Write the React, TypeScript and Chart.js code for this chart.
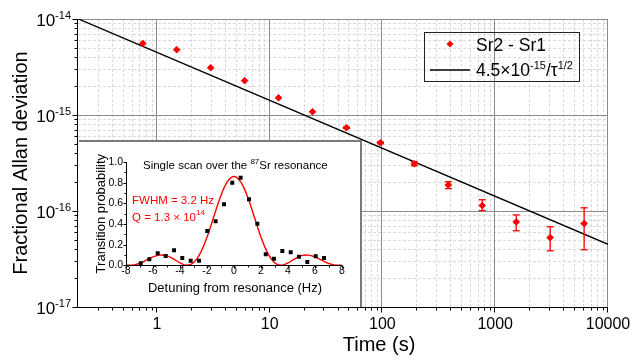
import React, { useEffect, useRef } from "react";
import { Chart, registerables } from "chart.js";

Chart.register(...registerables);

// ---------- main Allan deviation data ----------
const tau = [0.75, 1.5, 3, 6, 12, 24, 48, 96, 192, 384, 768, 1536, 3072, 6144];
const adev = [5.57e-15, 4.79e-15, 3.11e-15, 2.28e-15, 1.51e-15, 1.08e-15, 7.38e-16, 5.14e-16, 3.11e-16, 1.87e-16, 1.14e-16, 7.7e-17, 5.28e-17, 7.4e-17];
const adevHigh = [5.57e-15, 4.79e-15, 3.11e-15, 2.28e-15, 1.51e-15, 1.08e-15, 7.5e-16, 5.25e-16, 3.26e-16, 2.02e-16, 1.31e-16, 9.1e-17, 6.85e-17, 1.08e-16];
const adevLow = [5.57e-15, 4.79e-15, 3.11e-15, 2.28e-15, 1.51e-15, 1.08e-15, 7.26e-16, 5.03e-16, 2.96e-16, 1.71e-16, 1.01e-16, 6.23e-17, 3.85e-17, 3.95e-17];
const fitTau = [0.2, 10000];
const fitDev = [1.006e-14, 4.5e-17];

const xTickValues = [1, 10, 100, 1000, 10000];
const xTickLabels = ["1", "10", "100", "1000", "10000"];
const yTickValues = [1e-17, 1e-16, 1e-15, 1e-14];
const yTickExponents = ["-17", "-16", "-15", "-14"];

const seriesLabel = "Sr2 - Sr1";

// ---------- inset data ----------
const detuning = [-6.91, -6.27, -5.65, -5.06, -4.44, -3.83, -3.21, -2.59, -1.98, -1.36, -0.74, -0.13, 0.49, 1.11, 1.73, 2.35, 2.96, 3.58, 4.2, 4.81, 5.43, 6.05, 6.67];
const probability = [0.019, 0.058, 0.116, 0.09, 0.145, 0.071, 0.045, 0.045, 0.332, 0.426, 0.59, 0.8, 0.848, 0.639, 0.403, 0.106, 0.064, 0.138, 0.126, 0.083, 0.032, 0.087, 0.071];
const fitDetuning = [-8, -7.5, -7, -6.5, -6, -5.5, -5, -4.5, -4, -3.5, -3, -2.5, -2, -1.5, -1, -0.5, 0, 0.5, 1, 1.5, 2, 2.5, 3, 3.5, 4, 4.5, 5, 5.5, 6, 6.5, 7, 7.5, 8];
const fitProbability = [0.002, 0.002, 0.019, 0.049, 0.081, 0.099, 0.093, 0.063, 0.023, 0.0, 0.025, 0.116, 0.272, 0.47, 0.664, 0.807, 0.86, 0.807, 0.664, 0.47, 0.272, 0.116, 0.025, 0.0, 0.023, 0.063, 0.093, 0.099, 0.081, 0.049, 0.019, 0.002, 0.002];
const insetXTicks = [-8, -6, -4, -2, 0, 2, 4, 6, 8];
const insetYTicks = [0, 0.2, 0.4, 0.6, 0.8, 1.0];
const insetYTickLabels = ["0.0", "0.2", "0.4", "0.6", "0.8", "1.0"];

const RED = "#ff0000";
const FONT = "'Liberation Sans', Arial, sans-serif";
const INSET_LEFT = 79;
const INSET_TOP = 140;
const INSET_W = 283;
const INSET_H = 167;

type Part = { t: string; sup?: boolean };

function drawParts(
  ctx: CanvasRenderingContext2D,
  parts: Part[],
  x: number,
  y: number,
  size: number,
  supSize: number,
  rise: number,
  align: "left" | "right" | "center",
  color: string
) {
  ctx.save();
  ctx.fillStyle = color;
  ctx.textBaseline = "alphabetic";
  ctx.textAlign = "left";
  const widths = parts.map((p) => {
    ctx.font = `${p.sup ? supSize : size}px ${FONT}`;
    return ctx.measureText(p.t).width;
  });
  const total = widths.reduce((a, b) => a + b, 0);
  let cx = align === "left" ? x : align === "right" ? x - total : x - total / 2;
  parts.forEach((p, i) => {
    ctx.font = `${p.sup ? supSize : size}px ${FONT}`;
    ctx.fillText(p.t, cx, p.sup ? y - rise : y);
    cx += widths[i];
  });
  ctx.restore();
}

function hline(ctx: CanvasRenderingContext2D, x1: number, x2: number, y: number) {
  ctx.beginPath();
  ctx.moveTo(x1, y);
  ctx.lineTo(x2, y);
  ctx.stroke();
}
function vline(ctx: CanvasRenderingContext2D, x: number, y1: number, y2: number) {
  ctx.beginPath();
  ctx.moveTo(x, y1);
  ctx.lineTo(x, y2);
  ctx.stroke();
}

function minorValues(minExp: number, maxExp: number, lo: number, hi: number) {
  const out: number[] = [];
  for (let e = minExp; e <= maxExp; e++) {
    for (let k = 2; k <= 9; k++) {
      const v = k * Math.pow(10, e);
      if (v > lo * 1.0001 && v < hi * 0.9999) out.push(v);
    }
  }
  return out;
}

const mainPlugin = {
  id: "mainDecor",
  beforeDraw(chart: any) {
    const ctx = chart.ctx;
    ctx.save();
    ctx.fillStyle = "#ffffff";
    ctx.fillRect(0, 0, chart.width, chart.height);
    ctx.restore();
  },
  beforeDatasetsDraw(chart: any) {
    const ctx: CanvasRenderingContext2D = chart.ctx;
    const xs = chart.scales.x;
    const ys = chart.scales.y;
    const a = chart.chartArea;
    ctx.save();
    ctx.lineWidth = 1;
    ctx.strokeStyle = "#dadada";
    ctx.setLineDash([3, 2]);
    minorValues(-1, 3, 0.2, 10000).forEach((v) => {
      const px = Math.round(xs.getPixelForValue(v)) + 0.5;
      vline(ctx, px, a.top, a.bottom);
    });
    minorValues(-17, -15, 1e-17, 1e-14).forEach((v) => {
      const py = Math.round(ys.getPixelForValue(v)) + 0.5;
      hline(ctx, a.left, a.right, py);
    });
    ctx.setLineDash([]);
    ctx.strokeStyle = "#8c8c8c";
    xTickValues.forEach((v) => {
      const px = Math.round(xs.getPixelForValue(v)) - 0.5;
      vline(ctx, px, a.top, a.bottom);
    });
    yTickValues.slice(1).forEach((v) => {
      const py = Math.round(ys.getPixelForValue(v)) + 0.5;
      hline(ctx, a.left, a.right, py);
    });
    ctx.restore();
  },
  afterDatasetsDraw(chart: any) {
    const ctx: CanvasRenderingContext2D = chart.ctx;
    const xs = chart.scales.x;
    const ys = chart.scales.y;
    const a = chart.chartArea;
    ctx.save();
    // error bars
    ctx.strokeStyle = RED;
    ctx.lineWidth = 1.3;
    tau.forEach((t, i) => {
      const px = xs.getPixelForValue(t);
      const hi = ys.getPixelForValue(adevHigh[i]);
      const lo = ys.getPixelForValue(adevLow[i]);
      if (Math.abs(lo - hi) < 1) return;
      vline(ctx, px, hi, lo);
      hline(ctx, px - 3.5, px + 3.5, hi);
      hline(ctx, px - 3.5, px + 3.5, lo);
    });
    // axes
    ctx.strokeStyle = "#000";
    ctx.lineWidth = 1;
    const axX = Math.round(a.left) - 0.5;
    const axY = Math.round(a.bottom) + 0.5;
    vline(ctx, axX, a.top, axY + 0.5);
    hline(ctx, axX - 0.5, a.right, axY);
    // y ticks
    yTickValues.forEach((v) => {
      const py = Math.round(ys.getPixelForValue(v)) + 0.5;
      hline(ctx, axX - 5, axX, py);
    });
    minorValues(-17, -15, 1e-17, 1e-14).forEach((v) => {
      const py = Math.round(ys.getPixelForValue(v)) + 0.5;
      hline(ctx, axX - 3, axX, py);
    });
    // x ticks
    xTickValues.forEach((v) => {
      const px = Math.round(xs.getPixelForValue(v)) - 0.5;
      vline(ctx, px, axY, axY + 5);
    });
    minorValues(-1, 3, 0.2, 10000).forEach((v) => {
      const px = Math.round(xs.getPixelForValue(v)) + 0.5;
      vline(ctx, px, axY, axY + 3);
    });
    // tick labels
    ctx.fillStyle = "#000";
    ctx.font = `16px ${FONT}`;
    ctx.textAlign = "center";
    ctx.textBaseline = "alphabetic";
    xTickValues.forEach((v, i) => {
      ctx.fillText(xTickLabels[i], xs.getPixelForValue(v), 329);
    });
    yTickValues.forEach((v, i) => {
      const py = ys.getPixelForValue(v);
      drawParts(ctx, [{ t: "10" }, { t: yTickExponents[i], sup: true }], 71, py + 7, 17, 11, 7, "right", "#000");
    });
    // axis titles
    ctx.font = `20px ${FONT}`;
    ctx.textAlign = "center";
    ctx.fillText("Time (s)", 379, 351);
    ctx.save();
    ctx.translate(27, (a.top + a.bottom) / 2);
    ctx.rotate(-Math.PI / 2);
    ctx.fillText("Fractional Allan deviation", 0, 0);
    ctx.restore();
    // legend
    ctx.strokeStyle = "#222";
    ctx.lineWidth = 1;
    ctx.strokeRect(424.5, 32.5, 155, 49);
    ctx.fillStyle = RED;
    ctx.beginPath();
    ctx.moveTo(450, 40.5);
    ctx.lineTo(453.5, 44);
    ctx.lineTo(450, 47.5);
    ctx.lineTo(446.5, 44);
    ctx.closePath();
    ctx.fill();
    drawParts(ctx, [{ t: seriesLabel }], 476, 50.5, 17.5, 11, 0, "left", "#000");
    ctx.strokeStyle = "#000";
    ctx.lineWidth = 1.3;
    hline(ctx, 430, 470, 70);
    drawParts(
      ctx,
      [{ t: "4.5×10" }, { t: "-15", sup: true }, { t: "/τ" }, { t: "1/2", sup: true }],
      476,
      76,
      17.5,
      11,
      7,
      "left",
      "#000"
    );
    ctx.restore();
  },
};

const insetPlugin = {
  id: "insetDecor",
  beforeDraw(chart: any) {
    const ctx: CanvasRenderingContext2D = chart.ctx;
    ctx.save();
    ctx.fillStyle = "#ffffff";
    ctx.fillRect(0, 0, chart.width, chart.height);
    ctx.strokeStyle = "#7a7a7a";
    ctx.lineWidth = 2;
    ctx.beginPath();
    ctx.moveTo(0, 1);
    ctx.lineTo(chart.width - 1, 1);
    ctx.lineTo(chart.width - 1, chart.height);
    ctx.stroke();
    ctx.restore();
  },
  afterDatasetsDraw(chart: any) {
    const ctx: CanvasRenderingContext2D = chart.ctx;
    const xs = chart.scales.x;
    const ys = chart.scales.y;
    const a = chart.chartArea;
    const L = INSET_LEFT;
    const T = INSET_TOP;
    ctx.save();
    ctx.strokeStyle = "#000";
    ctx.lineWidth = 1;
    const axX = Math.round(a.left) + 0.5;
    const axY = Math.round(a.bottom) + 0.5;
    vline(ctx, axX, a.top, axY);
    hline(ctx, axX, a.right, axY);
    insetXTicks.forEach((v) => {
      const px = Math.round(xs.getPixelForValue(v)) + 0.5;
      vline(ctx, px, axY, axY + 3);
    });
    for (let v = -7; v <= 7; v += 2) {
      const px = Math.round(xs.getPixelForValue(v)) + 0.5;
      vline(ctx, px, axY, axY + 2);
    }
    insetYTicks.forEach((v) => {
      const py = Math.round(ys.getPixelForValue(v)) + 0.5;
      hline(ctx, axX - 3, axX, py);
    });
    for (let v = 0.1; v < 1; v += 0.2) {
      const py = Math.round(ys.getPixelForValue(v)) + 0.5;
      hline(ctx, axX - 2, axX, py);
    }
    ctx.fillStyle = "#000";
    ctx.font = `10.5px ${FONT}`;
    ctx.textAlign = "center";
    ctx.textBaseline = "alphabetic";
    insetXTicks.forEach((v) => {
      ctx.fillText(String(v), xs.getPixelForValue(v), 274 - T);
    });
    ctx.textAlign = "right";
    ctx.textBaseline = "middle";
    insetYTicks.forEach((v, i) => {
      ctx.fillText(insetYTickLabels[i], axX - 3.5, ys.getPixelForValue(v));
    });
    ctx.textBaseline = "alphabetic";
    ctx.textAlign = "center";
    ctx.font = `13px ${FONT}`;
    ctx.fillText("Detuning from resonance (Hz)", 235 - L, 292 - T);
    ctx.save();
    ctx.translate(105 - L, (a.top + a.bottom) / 2);
    ctx.rotate(-Math.PI / 2);
    ctx.fillText("Transition probability", 0, 0);
    ctx.restore();
    drawParts(
      ctx,
      [{ t: "Single scan over the " }, { t: "87", sup: true }, { t: "Sr resonance" }],
      143 - L,
      168.5 - T,
      11.5,
      8,
      5,
      "left",
      "#000"
    );
    drawParts(ctx, [{ t: "FWHM = 3.2 Hz" }], 132 - L, 203.5 - T, 11.5, 8, 0, "left", RED);
    drawParts(ctx, [{ t: "Q = 1.3 × 10" }, { t: "14", sup: true }], 132 - L, 221 - T, 11.5, 8, 6, "left", RED);
    ctx.restore();
  },
};

export default function App() {
  const mainRef = useRef<HTMLCanvasElement>(null);
  const insetRef = useRef<HTMLCanvasElement>(null);

  useEffect(() => {
    document.body.style.margin = "0";
    const main = new Chart(mainRef.current as HTMLCanvasElement, {
      type: "scatter",
      data: {
        datasets: [
          {
            type: "line",
            label: "fit",
            data: fitTau.map((x, i) => ({ x, y: fitDev[i] })),
            borderColor: "#000",
            borderWidth: 1.3,
            pointRadius: 0,
            fill: false,
            order: 2,
          } as any,
          {
            label: seriesLabel,
            data: tau.map((x, i) => ({ x, y: adev[i] })),
            pointStyle: "rectRot",
            pointRadius: 3.3,
            pointBorderWidth: 1,
            backgroundColor: RED,
            borderColor: RED,
            order: 1,
          },
        ],
      },
      options: {
        animation: false,
        responsive: false,
        maintainAspectRatio: false,
        layout: { padding: { left: 78, right: 26, top: 19, bottom: 53 } },
        scales: {
          x: { type: "logarithmic", min: 0.2, max: 10000, display: false },
          y: { type: "logarithmic", min: 1e-17, max: 1e-14, display: false },
        },
        plugins: { legend: { display: false }, tooltip: { enabled: false } },
      },
      plugins: [mainPlugin],
    });

    const inset = new Chart(insetRef.current as HTMLCanvasElement, {
      type: "scatter",
      data: {
        datasets: [
          {
            type: "line",
            label: "fit",
            data: fitDetuning.map((x, i) => ({ x, y: fitProbability[i] })),
            borderColor: RED,
            borderWidth: 1.4,
            pointRadius: 0,
            tension: 0.4,
            fill: false,
            order: 2,
          } as any,
          {
            label: "data",
            data: detuning.map((x, i) => ({ x, y: probability[i] })),
            pointStyle: "rect",
            pointRadius: 2.8,
            pointBorderWidth: 0,
            backgroundColor: "#000",
            borderColor: "#000",
            order: 1,
          },
        ],
      },
      options: {
        animation: false,
        responsive: false,
        maintainAspectRatio: false,
        layout: { padding: { left: 126 - INSET_LEFT, right: INSET_W - (342 - INSET_LEFT), top: 162 - INSET_TOP, bottom: INSET_H - (265.3 - INSET_TOP) } },
        scales: {
          x: { type: "linear", min: -8, max: 8, display: false },
          y: { type: "linear", min: 0, max: 1, display: false },
        },
        plugins: { legend: { display: false }, tooltip: { enabled: false } },
      },
      plugins: [insetPlugin],
    });

    return () => {
      main.destroy();
      inset.destroy();
    };
  }, []);

  return (
    <div style={{ position: "fixed", left: 0, top: 0, width: 634, height: 360, background: "#fff" }}>
      <canvas ref={mainRef} width={634} height={360} style={{ position: "absolute", left: 0, top: 0, width: 634, height: 360 }} />
      <canvas
        ref={insetRef}
        width={INSET_W}
        height={INSET_H}
        style={{ position: "absolute", left: INSET_LEFT, top: INSET_TOP, width: INSET_W, height: INSET_H }}
      />
    </div>
  );
}
